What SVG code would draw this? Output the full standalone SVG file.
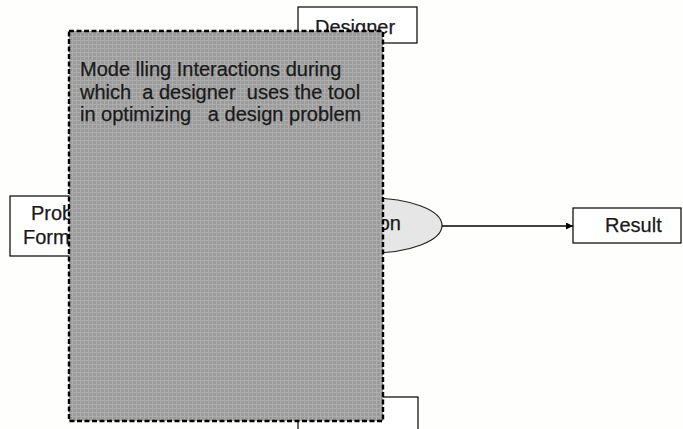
<svg xmlns="http://www.w3.org/2000/svg" width="683" height="429" viewBox="0 0 683 429">
<style>
.box{fill:#ffffff;stroke:#000000;stroke-width:1.2}
.lbl{font-family:"Liberation Sans",Arial,sans-serif;font-size:20px;fill:#1a1a1a;stroke:#1a1a1a;stroke-width:0.25}
.conn{stroke:#000000;stroke-width:1.6;fill:none}
</style>
<defs>
<marker id="arr" viewBox="0 0 10 10" refX="10" refY="5" markerWidth="8" markerHeight="7" markerUnits="userSpaceOnUse" orient="auto">
<path d="M0,0 L10,5 L0,10 z" fill="#000000"/>
</marker>
<pattern id="grid" width="4" height="4" patternUnits="userSpaceOnUse">
<rect width="4" height="4" fill="#9b9b9b"/>
<rect x="0" y="0" width="4" height="1" fill="#adadad"/>
<rect x="0" y="0" width="1" height="4" fill="#adadad"/>
</pattern>
</defs>
<rect width="683" height="429" fill="#fefefc"/>
<g id="designer">
<rect class="box" x="298" y="7" width="119" height="36"/>
<text class="lbl" x="315" y="34">Designer</text>
</g>
<g id="problem-formulation">
<rect class="box" x="10" y="196" width="80" height="60"/>
<text class="lbl" x="31" y="220">Prob</text>
<text class="lbl" x="23" y="244">Form</text>
</g>
<g id="bottom-node">
<rect class="box" x="298" y="397" width="120" height="40"/>
</g>
<g id="optimization">
<ellipse cx="370" cy="225.5" rx="72" ry="27.5" fill="#e6e6e6" stroke="#222222" stroke-width="1.2"/>
<text class="lbl" x="401" y="230" text-anchor="end">on</text>
</g>
<g id="result">
<rect class="box" x="573" y="208" width="108" height="35"/>
<text class="lbl" x="605" y="232">Result</text>
</g>
<g id="connectors">
<line class="conn" x1="442" y1="226" x2="573" y2="226" marker-end="url(#arr)"/>
</g>
<g id="modelling-note">
<rect x="69" y="31" width="314" height="390" fill="url(#grid)" stroke="#000000" stroke-width="2.4" stroke-dasharray="5 2.5"/>
<text class="lbl" x="80" y="76" xml:space="preserve">Mode lling Interactions during</text>
<text class="lbl" x="80" y="99" xml:space="preserve">which  a designer  uses the tool</text>
<text class="lbl" x="80" y="121" xml:space="preserve">in optimizing   a design problem</text>
</g>
</svg>
